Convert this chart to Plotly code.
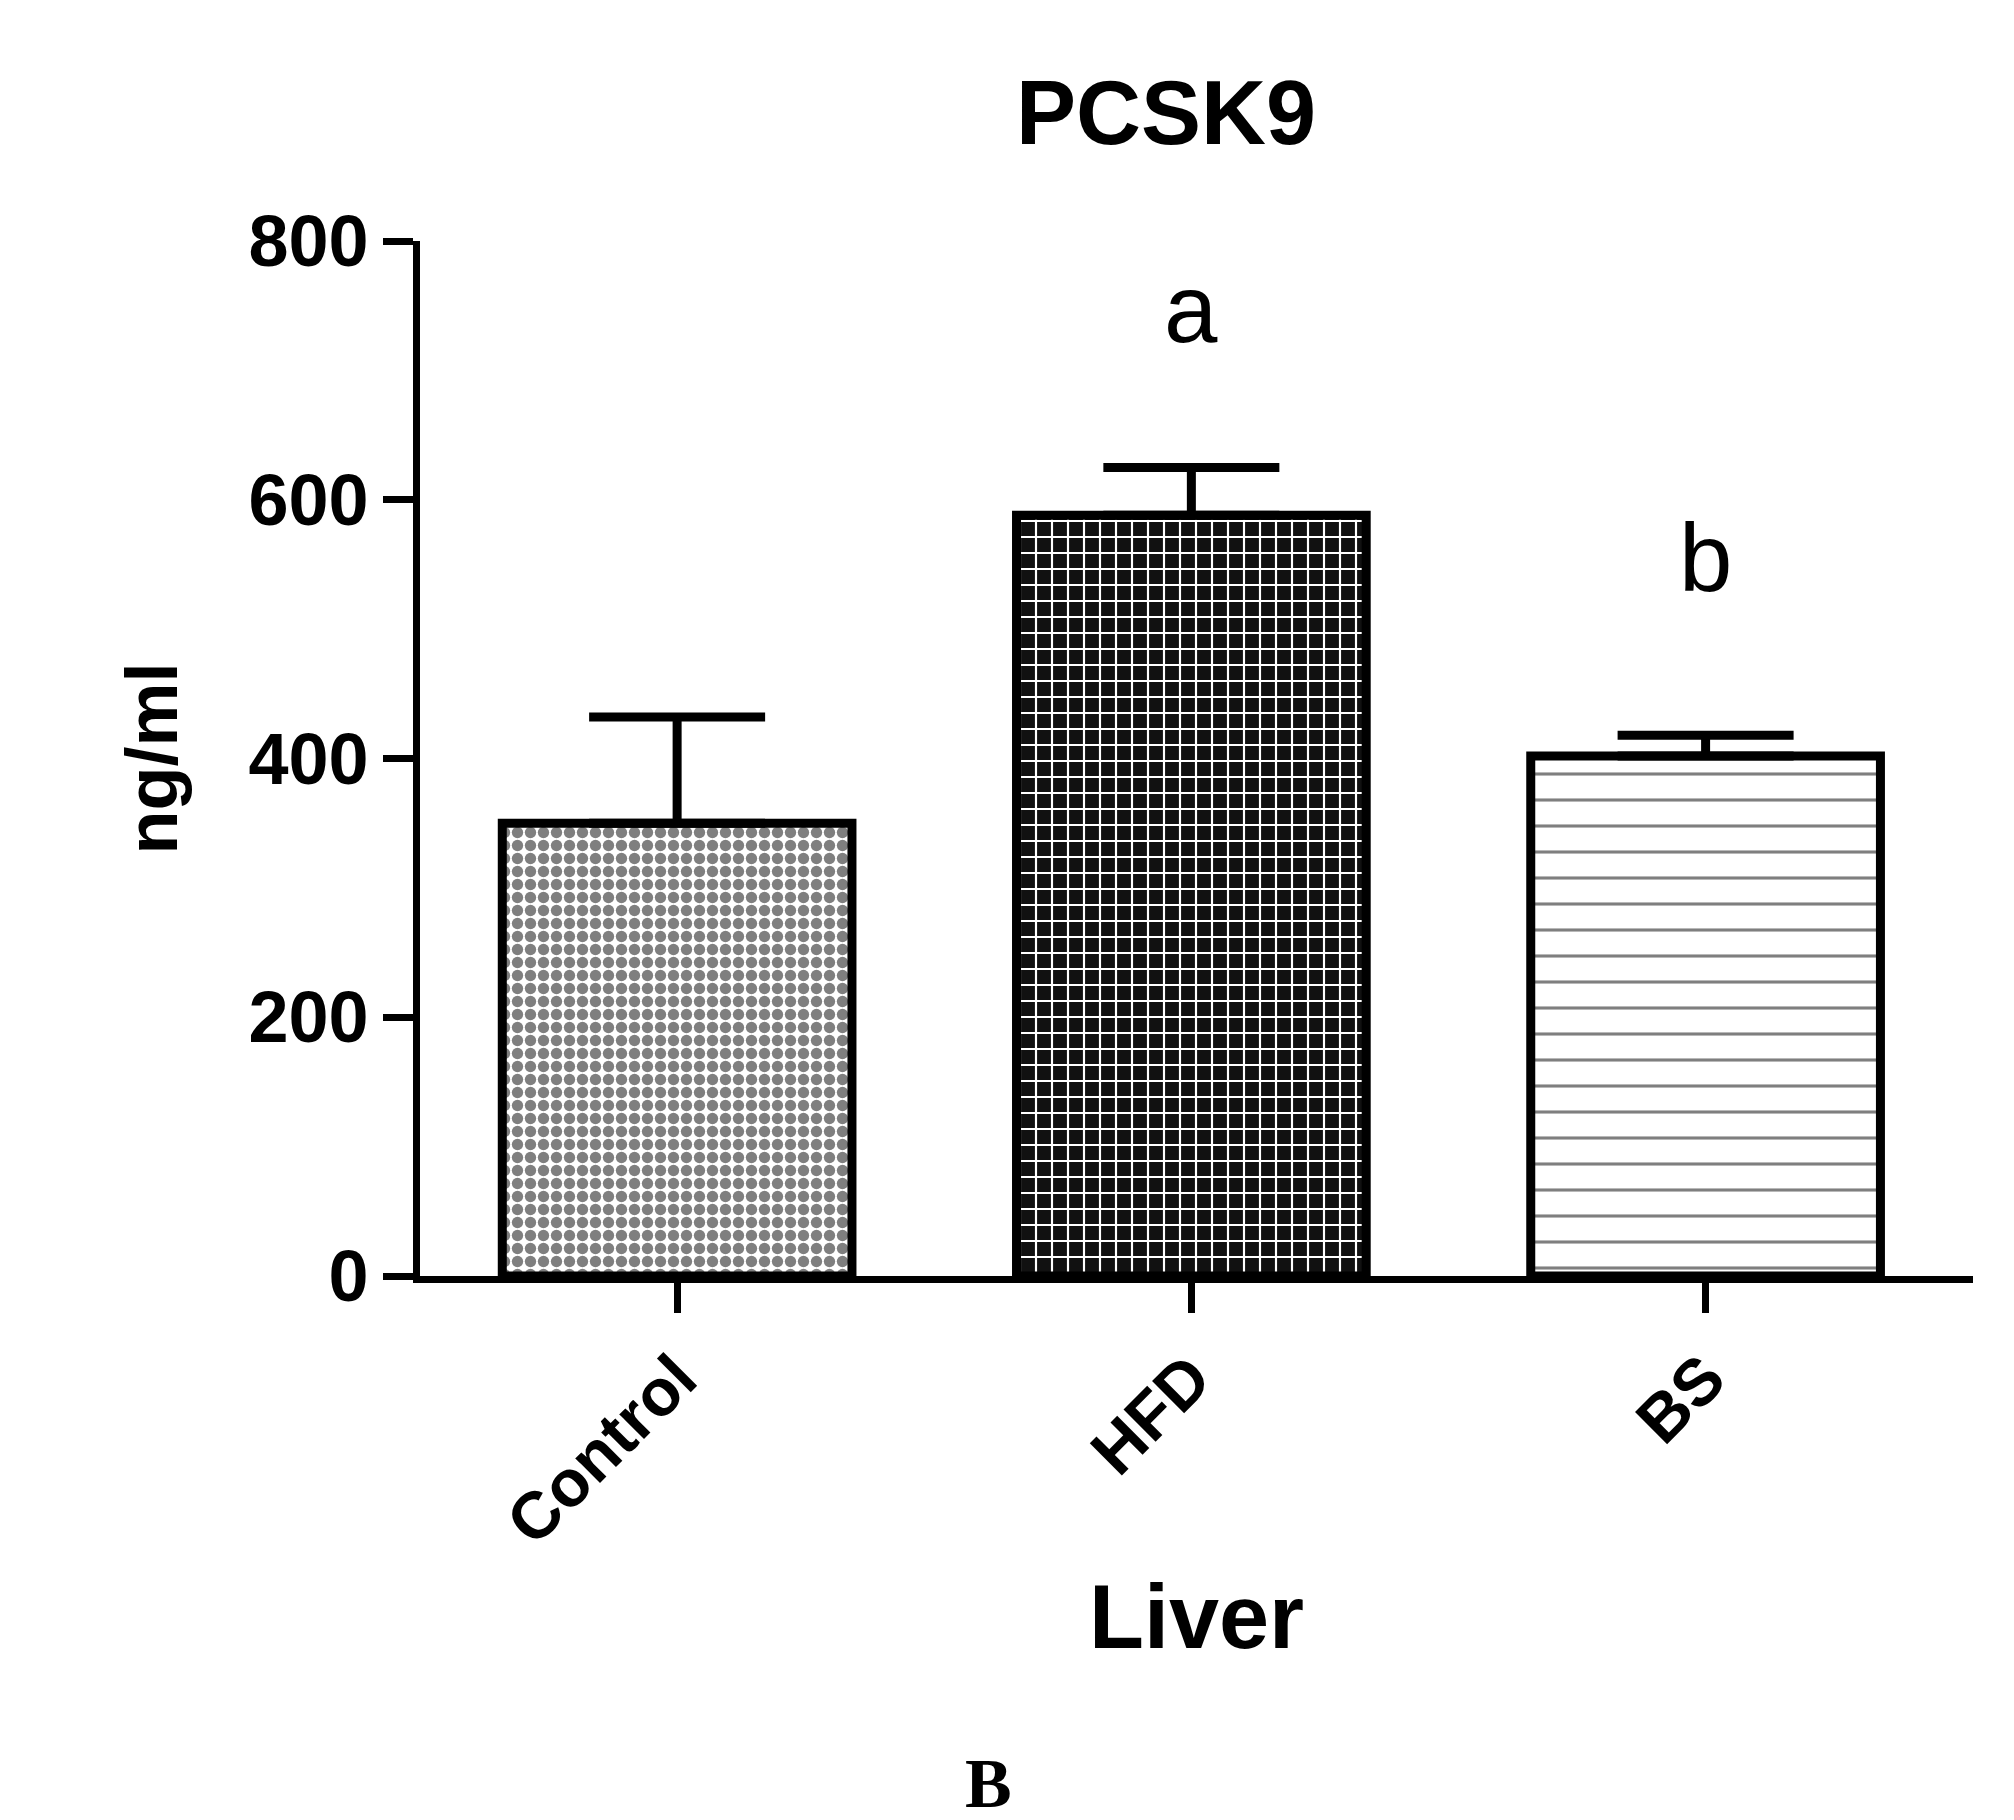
import plotly.graph_objects as go

groups = ["Control", "HFD", "BS"]
means = [350, 588, 402]
errors = [82, 37, 16]
letters = ["", "a", "b"]
letter_y = [None, 748, 555]

fig = go.Figure()
patterns = [
    dict(shape=".", size=13, solidity=0.6, fgcolor="black", bgcolor="white"),
    dict(shape="+", size=16, solidity=0.25, fgcolor="white", bgcolor="#111111", fillmode="replace"),
    dict(shape="-", size=26, solidity=0.12, fgcolor="black", bgcolor="white"),
]
for i, g in enumerate(groups):
    fig.add_trace(go.Bar(
        x=[g], y=[means[i]], width=0.68,
        marker=dict(color="white", line=dict(color="black", width=9), pattern=patterns[i]),
        error_y=dict(type="data", array=[errors[i]], arrayminus=[0], symmetric=False,
                     color="black", thickness=9, width=88),
        showlegend=False))
    if letters[i]:
        fig.add_annotation(x=g, y=letter_y[i], text=letters[i], showarrow=False,
                           font=dict(size=96, family="Liberation Sans", color="black"))

fig.add_annotation(xref="paper", yref="paper", x=0.366, y=-0.49, yanchor="middle",
                   text="<b>B</b>", showarrow=False,
                   font=dict(size=70, family="Liberation Serif", color="black"))

fig.update_layout(
    width=2014, height=1820, plot_bgcolor="white", paper_bgcolor="white",
    margin=dict(l=412, r=49, t=233, b=552),
    font=dict(family="Liberation Sans", color="black"),
    title=dict(text="<b>PCSK9</b>", x=0.575, xanchor="center", y=0.96, font=dict(size=90)),
    xaxis=dict(range=[-0.5, 2.52], showline=True, linecolor="black", linewidth=7,
               ticks="outside", ticklen=30, tickwidth=7, tickcolor="black",
               tickangle=-45, tickfont=dict(size=66, family="Liberation Sans"),
               title=dict(text="<b>Liver</b>", font=dict(size=90), standoff=30)),
    yaxis=dict(range=[0, 800], dtick=200, showline=True, linecolor="black", linewidth=7,
               ticks="outside", ticklen=30, tickwidth=7, tickcolor="black", showgrid=False,
               zeroline=False, tickfont=dict(size=72),
               tickprefix="<b>", ticksuffix="</b>",
               title=dict(text="<b>ng/ml</b>", font=dict(size=72), standoff=50)),
)
fig.update_xaxes(ticktext=["<b>%s</b>" % g for g in groups], tickvals=groups)
fig.write_html("out.html")
